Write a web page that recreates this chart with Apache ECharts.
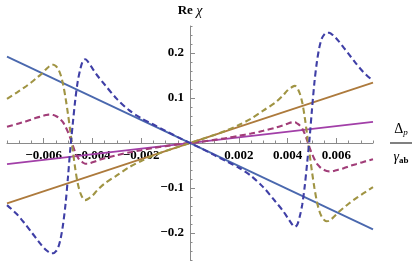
<!DOCTYPE html>
<html>
<head>
<meta charset="utf-8">
<script src="https://cdn.jsdelivr.net/npm/echarts@6/dist/echarts.min.js"></script>
<style>html,body{margin:0;padding:0;background:#fff;}#c{width:415px;height:262px;}</style>
</head>
<body>
<div id="c"></div>
<script>
// Shared x grid for the dashed curves
const xGrid = [-0.0075,-0.0071,-0.0068,-0.0065,-0.0063,-0.0061,-0.0059,-0.0058,-0.0057,-0.0056,-0.0055,-0.0054,-0.0053,-0.0052,-0.0051,-0.005,-0.0049,-0.0048,-0.0047,-0.0046,-0.0045,-0.0044,-0.0043,-0.0042,-0.004,-0.0038,-0.0035,-0.003,-0.0025,-0.002,-0.0015,-0.001,-0.0005,
  0,
  0.0005,0.001,0.0015,0.002,0.0025,0.003,0.0035,0.0038,0.004,0.0042,0.0043,0.0044,0.0045,0.0046,0.0047,0.0048,0.0049,0.005,0.0051,0.0052,0.0053,0.0054,0.0055,0.0056,0.0057,0.0058,0.0059,0.0061,0.0063,0.0065,0.0068,0.0071,0.0075];

const blueDash = [-0.138,-0.158,-0.177,-0.198,-0.212,-0.226,-0.238,-0.242,-0.245,-0.245,-0.241,-0.232,-0.212,-0.180,-0.135,-0.075,-0.010,0.045,0.097,0.137,0.163,0.181,0.186,0.182,0.166,0.150,0.130,0.098,0.073,0.055,0.041,0.027,0.013,
  0,
  -0.013,-0.027,-0.041,-0.055,-0.073,-0.098,-0.130,-0.150,-0.166,-0.182,-0.186,-0.181,-0.163,-0.137,-0.097,-0.045,0.010,0.075,0.135,0.180,0.212,0.232,0.241,0.245,0.245,0.242,0.238,0.226,0.212,0.198,0.177,0.158,0.138];

const oliveDash = [0.098,0.112,0.123,0.135,0.144,0.153,0.164,0.169,0.173,0.174,0.171,0.164,0.151,0.130,0.100,0.064,0.024,-0.018,-0.058,-0.090,-0.110,-0.122,-0.127,-0.125,-0.117,-0.105,-0.090,-0.072,-0.054,-0.040,-0.028,-0.018,-0.009,
  0,
  0.009,0.018,0.028,0.040,0.054,0.072,0.090,0.105,0.117,0.125,0.127,0.122,0.110,0.090,0.058,0.018,-0.024,-0.064,-0.100,-0.130,-0.151,-0.164,-0.171,-0.174,-0.173,-0.169,-0.164,-0.153,-0.144,-0.135,-0.123,-0.112,-0.098];

const purpleDash = [0.036,0.042,0.047,0.052,0.056,0.059,0.062,0.063,0.063,0.062,0.060,0.057,0.052,0.046,0.036,0.024,0.010,-0.006,-0.021,-0.032,-0.039,-0.043,-0.046,-0.046,-0.043,-0.039,-0.034,-0.027,-0.021,-0.016,-0.011,-0.007,-0.003,
  0,
  0.003,0.007,0.011,0.016,0.021,0.027,0.034,0.039,0.043,0.046,0.046,0.043,0.039,0.032,0.021,0.006,-0.010,-0.024,-0.036,-0.046,-0.052,-0.057,-0.060,-0.062,-0.063,-0.063,-0.062,-0.059,-0.056,-0.052,-0.047,-0.042,-0.036];

// Straight solid lines
const lineX = [-0.0075, 0.0075];
const blueLine = [0.192, -0.192];
const brownLine = [-0.134, 0.134];
const purpleLine = [-0.047, 0.047];

// Ticks and labels
const xLabelValues = [-0.006,-0.004,-0.002,0.002,0.004,0.006];
const yLabelValues = [-0.2,-0.1,0.1,0.2];

function pairs(xs, ys){ return xs.map((x,i)=>[x, ys[i]]); }

const SERIF = '"Liberation Serif", "DejaVu Serif", serif';
const AX = '#8a8a8a';

const W = 415, H = 262;
const G = {left: 7, right: 42, top: 26, bottom: 2};
const gw = W - G.left - G.right, gh = H - G.top - G.bottom;
// shift axes from grid edge to the zero line (ranges are symmetric)
const xOff = -gh / 2, yOff = -gw / 2;

const chart = echarts.init(document.getElementById('c'), null, {renderer:'canvas'});
chart.setOption({
  animation: false,
  backgroundColor: '#fff',
  grid: {left: G.left, right: G.right, top: G.top, bottom: G.bottom, containLabel: false, outerBoundsMode: 'none'},
  xAxis: [{
    type: 'value', min: -0.0075, max: 0.0075, position: 'bottom', offset: xOff,
    axisLine: {onZero: false, lineStyle: {color: AX, width: 1}},
    axisTick: {show: true, inside: true, length: 5, customValues: xLabelValues, lineStyle: {color: AX}},
    axisLabel: {customValues: xLabelValues, margin: 6, fontFamily: SERIF, fontWeight: 'bold', fontSize: 13, color: '#000',
      formatter: v => (v < 0 ? '\u2212' : '') + Math.abs(v).toFixed(3)},
    splitLine: {show: false},
    name: '{d|\u0394}{p|p}\n{bar|}\n{g|\u03b3}{ab|ab}',
    nameLocation: 'end', nameGap: 17,
    nameTextStyle: {
      fontFamily: SERIF, color: '#000',
      rich: {
        d: {fontFamily: SERIF, fontSize: 14, lineHeight: 20, align: 'center', color: '#000'},
        p: {fontFamily: SERIF, fontSize: 9, fontStyle: 'italic', lineHeight: 20, padding: [7,0,0,0], align: 'center', color: '#000'},
        bar: {width: 22, height: 1, lineHeight: 8, backgroundColor: '#000'},
        g: {fontFamily: SERIF, fontSize: 14, fontStyle: 'italic', lineHeight: 20, align: 'center', color: '#000'},
        ab: {fontFamily: SERIF, fontSize: 9, fontWeight: 'bold', lineHeight: 20, padding: [7,0,0,0], align: 'center', color: '#000'}
      }
    }
  }, {
    type: 'value', min: -0.0075, max: 0.0075, interval: 0.0005, position: 'bottom', offset: xOff,
    axisLine: {show: false, onZero: false},
    axisTick: {show: true, inside: true, length: 2.5, lineStyle: {color: AX}},
    axisLabel: {show: false},
    splitLine: {show: false}
  }],
  yAxis: [{
    type: 'value', min: -0.26, max: 0.26, position: 'left', offset: yOff,
    axisLine: {onZero: false, lineStyle: {color: AX, width: 1}},
    axisTick: {show: true, inside: true, length: 5, customValues: yLabelValues, lineStyle: {color: AX}},
    axisLabel: {customValues: yLabelValues, margin: 6, fontFamily: SERIF, fontWeight: 'bold', fontSize: 13, color: '#000',
      formatter: v => (v < 0 ? '\u2212' : '') + Math.abs(v).toFixed(1)},
    splitLine: {show: false},
    name: '{r|Re} {c|\u03c7}',
    nameLocation: 'end', nameGap: 8,
    nameTextStyle: {
      rich: {
        r: {fontFamily: SERIF, fontSize: 13, fontWeight: 'bold', color: '#000'},
        c: {fontFamily: SERIF, fontSize: 14, fontStyle: 'italic', color: '#000'}
      }
    }
  }, {
    type: 'value', min: -0.26, max: 0.26, interval: 0.02, position: 'left', offset: yOff,
    axisLine: {show: false, onZero: false},
    axisTick: {show: true, inside: true, length: 2.5, lineStyle: {color: AX}},
    axisLabel: {show: false},
    splitLine: {show: false}
  }],
  series: [
    {type: 'line', data: pairs(lineX, blueLine), showSymbol: false, lineStyle: {color: '#4a68ae', width: 1.8}},
    {type: 'line', data: pairs(lineX, brownLine), showSymbol: false, lineStyle: {color: '#ad7a3c', width: 1.8}},
    {type: 'line', data: pairs(lineX, purpleLine), showSymbol: false, lineStyle: {color: '#a23fa8', width: 1.8}},
    {type: 'line', data: pairs(xGrid, purpleDash), showSymbol: false, smooth: 0.3, lineStyle: {color: '#a13d78', width: 2.1, type: [6, 3.5]}},
    {type: 'line', data: pairs(xGrid, oliveDash), showSymbol: false, smooth: 0.3, lineStyle: {color: '#a09443', width: 2.1, type: [6, 3.5]}},
    {type: 'line', data: pairs(xGrid, blueDash), showSymbol: false, smooth: 0.3, lineStyle: {color: '#3f3fa6', width: 2.1, type: [6, 3.5]}}
  ]
});
</script>
</body>
</html>
